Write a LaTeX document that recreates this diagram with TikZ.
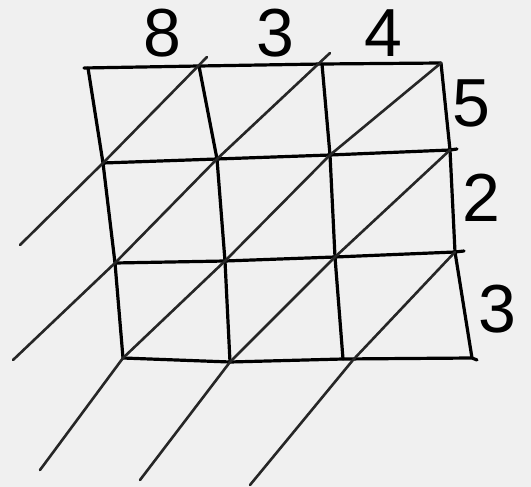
\documentclass[tikz,border=0pt]{standalone}
\usepackage{fontspec}
\setmainfont{Liberation Sans}
\begin{document}
\begin{tikzpicture}[x=1pt,y=-1pt,
  gridline/.style={line width=3.2pt,black,line cap=round,line join=round},
  diagline/.style={line width=2.6pt,black!85,line cap=round,line join=round},
  digit/.style={font=\fontsize{68}{68}\selectfont,inner sep=0pt}]
\fill[black!6] (0,0) rectangle (531,487);
\useasboundingbox (0,0) rectangle (531,487);
% grid points
\coordinate (r0c0) at (88,68);  \coordinate (r0c1) at (199,66);  \coordinate (r0c2) at (322,64);  \coordinate (r0c3) at (441,63);
\coordinate (r1c0) at (103,163); \coordinate (r1c1) at (217,159); \coordinate (r1c2) at (330,155); \coordinate (r1c3) at (450,150);
\coordinate (r2c0) at (115,263); \coordinate (r2c1) at (225,261); \coordinate (r2c2) at (335,257); \coordinate (r2c3) at (455,252);
\coordinate (r3c0) at (123,358); \coordinate (r3c1) at (230,362); \coordinate (r3c2) at (343,359); \coordinate (r3c3) at (472,358);
% line ends
\coordinate (t0) at (84,68);
\coordinate (e1) at (457,149);
\coordinate (e2) at (464,251);
\coordinate (e3) at (477,360);
\coordinate (d1a) at (207,57); \coordinate (d1b) at (20,245);
\coordinate (d2a) at (330,53); \coordinate (d2b) at (13,360);
\coordinate (d3b) at (40,470);
\coordinate (d4b) at (140,480);
\coordinate (d5m) at (353,360); \coordinate (d5b) at (250,485);
% horizontal lines
\draw[gridline] (t0) -- (r0c1) -- (r0c2) -- (r0c3);
\draw[gridline] (r1c0) -- (r1c1) -- (r1c2) -- (r1c3) -- (e1);
\draw[gridline] (r2c0) -- (r2c1) -- (r2c2) -- (r2c3) -- (e2);
\draw[gridline] (r3c0) -- (r3c1) -- (r3c2) -- (r3c3) -- (e3);
% vertical lines
\draw[gridline] (r0c0) -- (r1c0) -- (r2c0) -- (r3c0);
\draw[gridline] (r0c1) -- (r1c1) -- (r2c1) -- (r3c1);
\draw[gridline] (r0c2) -- (r1c2) -- (r2c2) -- (r3c2);
\draw[gridline] (r0c3) -- (r1c3) -- (r2c3) -- (r3c3);
% diagonals
\draw[diagline] (d1a) -- (r1c0) -- (d1b);
\draw[diagline] (d2a) -- (r1c1) -- (r2c0) -- (d2b);
\draw[diagline] (r0c3) -- (r1c2) -- (r2c1) -- (r3c0) -- (d3b);
\draw[diagline] (r1c3) -- (r2c2) -- (r3c1) -- (d4b);
\draw[diagline] (r2c3) -- (d5m) -- (d5b);
% digits
\node[digit] (n8) at (162,33) {8};
\node[digit] (n3) at (275,33) {3};
\node[digit] (n4) at (383,33) {4};
\node[digit] (n5) at (471,103) {5};
\node[digit] (n2) at (481,198) {2};
\node[digit] (n3b) at (497,309) {3};
\end{tikzpicture}
\end{document}
